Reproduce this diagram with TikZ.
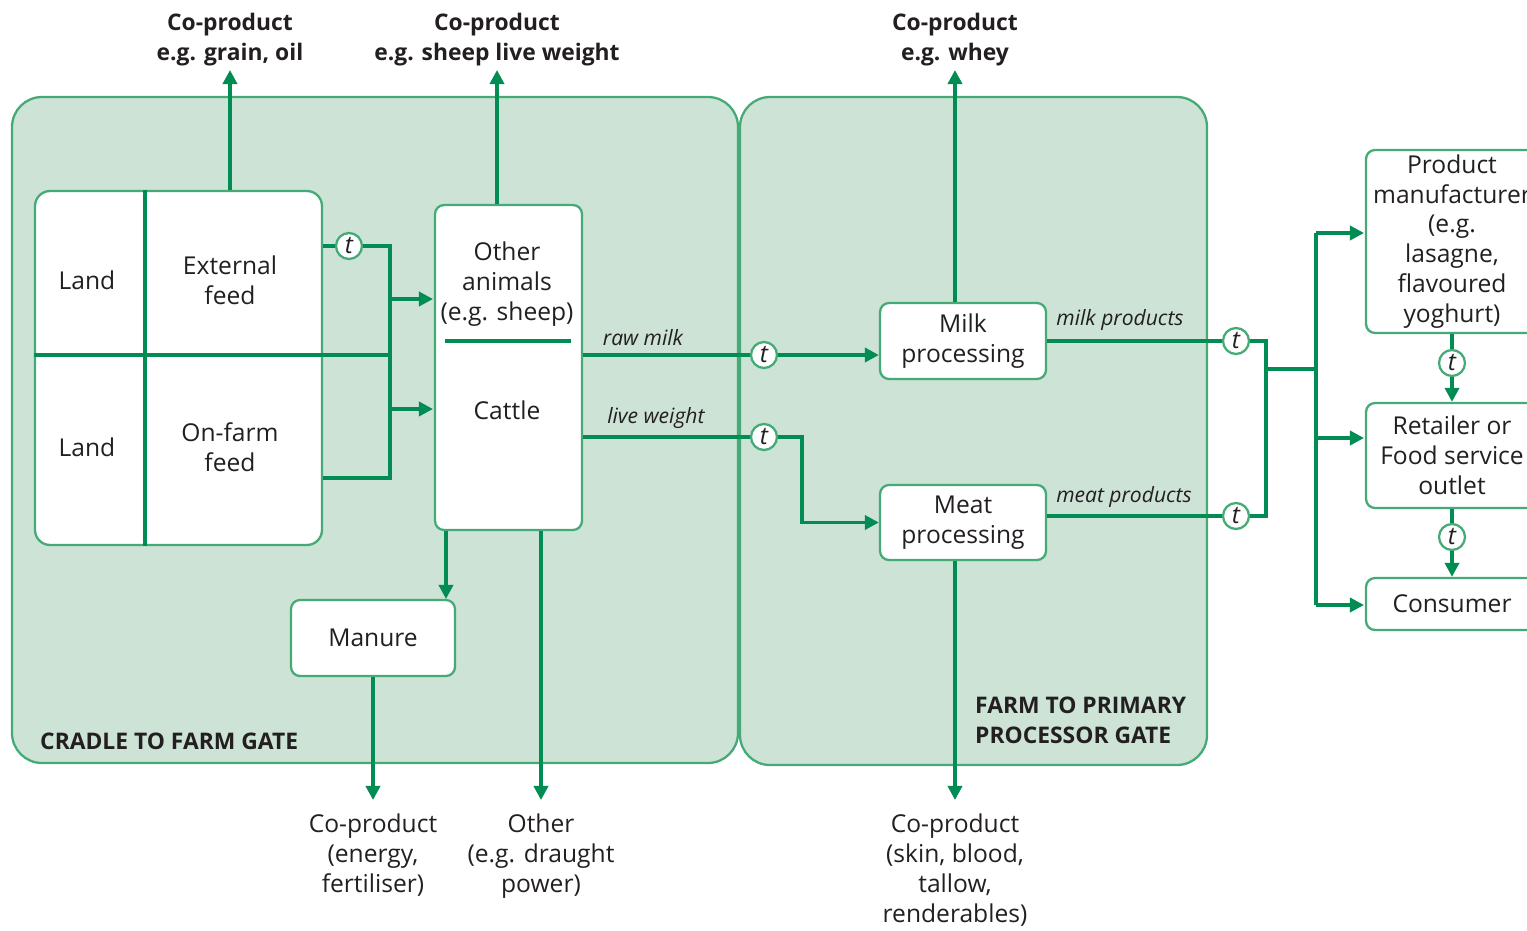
\documentclass[tikz,border=0pt]{standalone}
\usepackage{fontspec}
\setmainfont{Open Sans}
\usetikzlibrary{arrows.meta,positioning}
\definecolor{flowgreen}{RGB}{0,140,82}
\definecolor{boxgreen}{RGB}{70,170,118}
\definecolor{panelgreen}{RGB}{204,227,214}
\definecolor{inkgrey}{RGB}{35,31,32}

\begin{document}
\begin{tikzpicture}[x=0.02cm, y=-0.02cm, text=inkgrey,
    flow/.style={flowgreen, line width=2pt},
    arr/.style={flow, -{Triangle[length=8pt, width=8pt]}},
    panel/.style={fill=panelgreen, draw=boxgreen, line width=1.3pt, rounded corners=0.6cm},
    box/.style={draw=boxgreen, fill=white, line width=1.3pt, rounded corners=0.18cm, inner sep=0pt},
    tee/.style={circle, draw=boxgreen, fill=white, line width=1.3pt, inner sep=0pt, minimum size=0.52cm, font=\fontsize{14}{15}\selectfont\itshape},
    txt/.style={align=center, font=\fontsize{14}{17}\selectfont},
    bold/.style={align=center, font=\fontsize{13}{17}\selectfont\bfseries},
    ital/.style={font=\fontsize{12}{14}\selectfont\itshape}]

    \clip (0,0) rectangle (1527,930);

    % Panels
    \draw[panel] (12,97) rectangle (738,763);
    \draw[panel] (740,97) rectangle (1207,765);
    \node[bold, anchor=west] (cradle) at (34,741) {CRADLE TO FARM GATE};
    \node[bold, align=left, anchor=west] (farmgate) at (969,720) {FARM TO PRIMARY\\PROCESSOR GATE};

    % Land and feed
    \node[box, rounded corners=0.3cm, minimum width=5.74cm, minimum height=7.08cm] (grid) at (178.5,368) {};
    \node[txt] (land1) at (87,280) {Land};
    \node[txt] (land2) at (87,447) {Land};
    \node[txt] (extfeed) at (230,280) {External\\feed};
    \node[txt] (farmfeed) at (230,447) {On-farm\\feed};
    \draw[flow] (grid.north -| 145,0) -- (grid.south -| 145,0);
    \node[tee] (t1) at (349,246) {t};
    \coordinate (jtop) at (390,246);
    \coordinate (jmid) at (390,355);
    \coordinate (jbot) at (390,478);
    \draw[flow] (grid.east |- t1) -- (t1) -- (jtop) -- (jbot) -- (grid.east |- jbot);
    \draw[flow] (grid.west |- jmid) -- (jmid);

    % Animals
    \node[box, minimum width=2.94cm, minimum height=6.5cm] (animals) at (508.5,367.5) {};
    \node[txt] (other) at (507,284) {Other\\animals\\(e.g. sheep)};
    \node[txt] (cattle) at (507,410) {Cattle};
    \draw[flow] (445,341) -- (571,341);
    \coordinate (sheepin) at (433,299);
    \coordinate (cattlein) at (433,409);
    \draw[arr] (jtop |- sheepin) -- (sheepin);
    \draw[arr] (jtop |- cattlein) -- (cattlein);

    % Co-products above
    \node[bold, anchor=south, inner sep=2pt] (cpgrain) at (230,70) {Co-product\\e.g. grain, oil};
    \node[bold, anchor=south, inner sep=2pt] (cpsheep) at (497,70) {Co-product\\e.g. sheep live weight};
    \node[bold, anchor=south, inner sep=2pt] (cpwhey) at (955,70) {Co-product\\e.g. whey};
    \draw[arr] (grid.north -| cpgrain) -- (cpgrain.south);
    \draw[arr] (animals.north -| cpsheep) -- (cpsheep.south);

    % Manure and other outputs
    \node[box, txt, minimum width=3.28cm, minimum height=1.52cm] (manure) at (373,638) {Manure};
    \coordinate (mantop) at (446,599);
    \draw[arr] (animals.south -| mantop) -- (mantop);
    \node[txt, anchor=north, inner sep=1pt] (cpenergy) at (373,812) {Co-product\\(energy,\\fertiliser)};
    \node[txt, anchor=north, inner sep=1pt] (draught) at (541,812) {Other\\(e.g. draught\\power)};
    \draw[arr] (manure) -- (cpenergy.north |- 0,800);
    \draw[arr] (animals.south -| draught) -- (draught.north |- 0,800);

    % Processing
    \node[box, txt, minimum width=3.32cm, minimum height=1.52cm] (milk) at (963,341) {Milk\\processing};
    \node[box, txt, minimum width=3.32cm, minimum height=1.5cm] (meat) at (963,522.5) {Meat\\processing};
    \node[tee] (t2) at (764,355) {t};
    \node[tee] (t3) at (764,437) {t};
    \coordinate (lwbend) at (802,437);
    \draw[flow] (animals.east |- t2) -- (t2);
    \draw[arr] (t2) -- (milk.west |- t2);
    \draw[flow] (animals.east |- t3) -- (t3);
    \draw[arr] (t3) -- (lwbend) |- (meat.west);
    \node[ital] (rawmilk) at (643,338) {raw milk};
    \node[ital] (liveweight) at (656,418) {live weight};
    \draw[arr] (milk.north -| cpwhey) -- (cpwhey.south);
    \node[txt, anchor=north, inner sep=1pt] (cpskin) at (955,812) {Co-product\\(skin, blood,\\tallow,\\renderables)};
    \draw[arr] (meat.south -| cpskin) -- (cpskin.north |- 0,800);

    % Products out
    \node[tee] (t4) at (1236,341) {t};
    \node[tee] (t5) at (1236,516) {t};
    \node[ital] (milkprod) at (1120,320) {milk products};
    \node[ital] (meatprod) at (1124,497) {meat products};
    \coordinate (jr) at (1266,369);
    \coordinate (split) at (1316,369);
    \draw[flow] (milk.east |- t4) -- (t4);
    \draw[flow] (meat.east |- t5) -- (t5);
    \draw[flow] (t4) -- (jr |- t4) -- (jr |- t5) -- (t5);
    \draw[flow] (jr) -- (split);

    % Chain to consumer
    \node[box, txt, minimum width=3.44cm, minimum height=3.66cm] (product) at (1452,241.5) {Product\\manufacturer\\(e.g.\\lasagne,\\flavoured\\yoghurt)};
    \node[box, txt, minimum width=3.44cm, minimum height=2.1cm] (retailer) at (1452,455.5) {Retailer or\\Food service\\outlet};
    \node[box, txt, minimum width=3.44cm, minimum height=1.04cm] (consumer) at (1452,604) {Consumer};
    \coordinate (prodin) at (1364,233);
    \coordinate (retin) at (1364,438);
    \coordinate (conin) at (1364,605);
    \draw[flow] (split |- prodin) -- (split |- conin);
    \draw[arr] (split |- prodin) -- (prodin);
    \draw[arr] (split |- retin) -- (retin);
    \draw[arr] (split |- conin) -- (conin);
    \node[tee] (t6) at (1452,363) {t};
    \node[tee] (t7) at (1452,537) {t};
    \draw[flow] (product) -- (t6);
    \draw[arr] (t6) -- (retailer);
    \draw[flow] (retailer) -- (t7);
    \draw[arr] (t7) -- (consumer);
\end{tikzpicture}
\end{document}
